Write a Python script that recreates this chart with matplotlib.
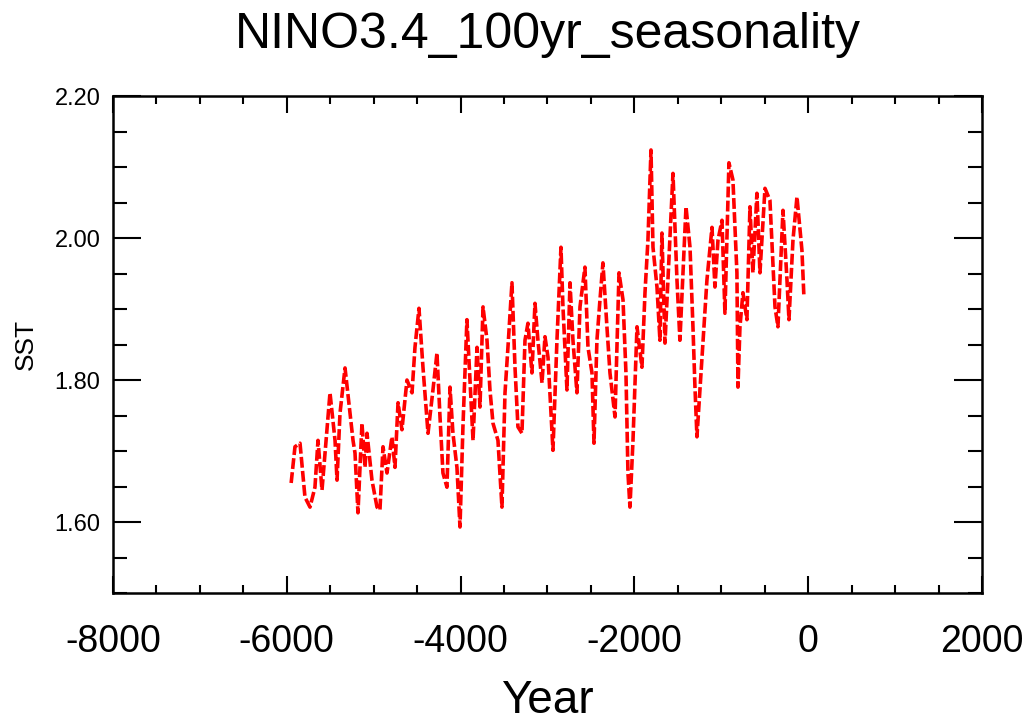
import matplotlib
matplotlib.use("Agg")
import matplotlib.pyplot as plt
from matplotlib.ticker import MultipleLocator, FixedLocator

plt.rcParams['font.family'] = ['Liberation Sans', 'DejaVu Sans']

# values
year = [-5950, -5906, -5848, -5791, -5733, -5676, -5641, -5595, -5560, -5503,
        -5445, -5422, -5388, -5330, -5273, -5238, -5215, -5181, -5135, -5100,
        -5077, -5020, -4962, -4928, -4893, -4847, -4790, -4755, -4720, -4675,
        -4617, -4559, -4525, -4479, -4433, -4375, -4318, -4272, -4237, -4203,
        -4157, -4122, -4088, -4042, -4007, -3973, -3927, -3892, -3857, -3811,
        -3777, -3742, -3696, -3662, -3627, -3570, -3524, -3489, -3455, -3409,
        -3374, -3340, -3294, -3259, -3225, -3179, -3144, -3110, -3063, -3029,
        -2994, -2937, -2891, -2845, -2822, -2776, -2741, -2707, -2661, -2626,
        -2569, -2534, -2488, -2465, -2431, -2396, -2362, -2316, -2281, -2223,
        -2177, -2131, -2097, -2074, -2051, -2016, -1970, -1913, -1878, -1844,
        -1809, -1786, -1740, -1706, -1683, -1648, -1614, -1556, -1510, -1476,
        -1406, -1360, -1326, -1303, -1280, -1222, -1165, -1107, -1073, -1038,
        -992, -958, -912, -866, -820, -808, -785, -751, -705, -670,
        -636, -590, -555, -497, -440, -382, -348, -290, -244, -221,
        -175, -129, -72, -49]
sst = [1.655, 1.706, 1.711, 1.635, 1.621, 1.649, 1.715, 1.645, 1.697, 1.782,
       1.715, 1.659, 1.753, 1.817, 1.753, 1.715, 1.697, 1.613, 1.739, 1.677,
       1.725, 1.659, 1.621, 1.617, 1.706, 1.669, 1.720, 1.677, 1.768, 1.730,
       1.800, 1.782, 1.846, 1.901, 1.818, 1.725, 1.786, 1.838, 1.748, 1.669,
       1.649, 1.790, 1.725, 1.677, 1.593, 1.734, 1.885, 1.800, 1.715, 1.846,
       1.762, 1.903, 1.856, 1.786, 1.739, 1.715, 1.621, 1.782, 1.846, 1.937,
       1.818, 1.734, 1.725, 1.856, 1.880, 1.810, 1.908, 1.856, 1.796, 1.861,
       1.832, 1.701, 1.856, 1.987, 1.903, 1.786, 1.937, 1.856, 1.782, 1.903,
       1.959, 1.846, 1.810, 1.711, 1.856, 1.913, 1.965, 1.875, 1.810, 1.748,
       1.951, 1.913, 1.810, 1.669, 1.621, 1.715, 1.875, 1.818, 1.923, 1.997,
       2.124, 1.987, 1.931, 1.856, 2.007, 1.852, 1.941, 2.091, 1.941, 1.856,
       2.044, 1.987, 1.875, 1.790, 1.720, 1.832, 1.941, 2.015, 1.931, 1.997,
       2.025, 1.894, 2.106, 2.082, 1.951, 1.790, 1.875, 1.923, 1.885, 2.044,
       1.951, 2.063, 1.951, 2.070, 2.053, 1.903, 1.875, 2.039, 1.941, 1.885,
       1.997, 2.058, 1.983, 1.917]

xticks = [-8000, -6000, -4000, -2000, 0, 2000]
yticks = [1.6, 1.8, 2.0, 2.2]

fig = plt.figure(figsize=(10.33, 7.28), dpi=100)
ax = fig.add_axes([0.1094, 0.1854, 0.8412, 0.6827])

ax.plot(year, sst, color='#ff0000', lw=2.6, linestyle=(0, (3, 0.9)))

ax.set_xlim(-8000, 2000)
ax.set_ylim(1.5, 2.2)
ax.xaxis.set_major_locator(FixedLocator(xticks))
ax.xaxis.set_minor_locator(MultipleLocator(500))
ax.yaxis.set_major_locator(FixedLocator(yticks))
ax.yaxis.set_minor_locator(MultipleLocator(0.05))
ax.set_yticklabels(['%.2f' % v for v in yticks])
ax.set_xticklabels([str(v) for v in xticks])

for s in ax.spines.values():
    s.set_linewidth(1.8)

ax.tick_params(axis='both', which='both', direction='in', top=True, right=True, width=1.5)
ax.tick_params(axis='x', which='major', length=12, labelsize=27, pad=22)
ax.tick_params(axis='x', which='minor', length=6)
ax.tick_params(axis='y', which='major', length=20, labelsize=17, pad=9)
ax.tick_params(axis='y', which='minor', length=10)

ax.set_ylabel('SST', fontsize=19, labelpad=12)
ax.set_xlabel('Year', fontsize=33, labelpad=14)
fig.text(547.5 / 1033, 1 - 35 / 728, 'NINO3.4_100yr_seasonality', fontsize=36,
         ha='center', va='center')

fig.savefig('out.png', dpi=100)
